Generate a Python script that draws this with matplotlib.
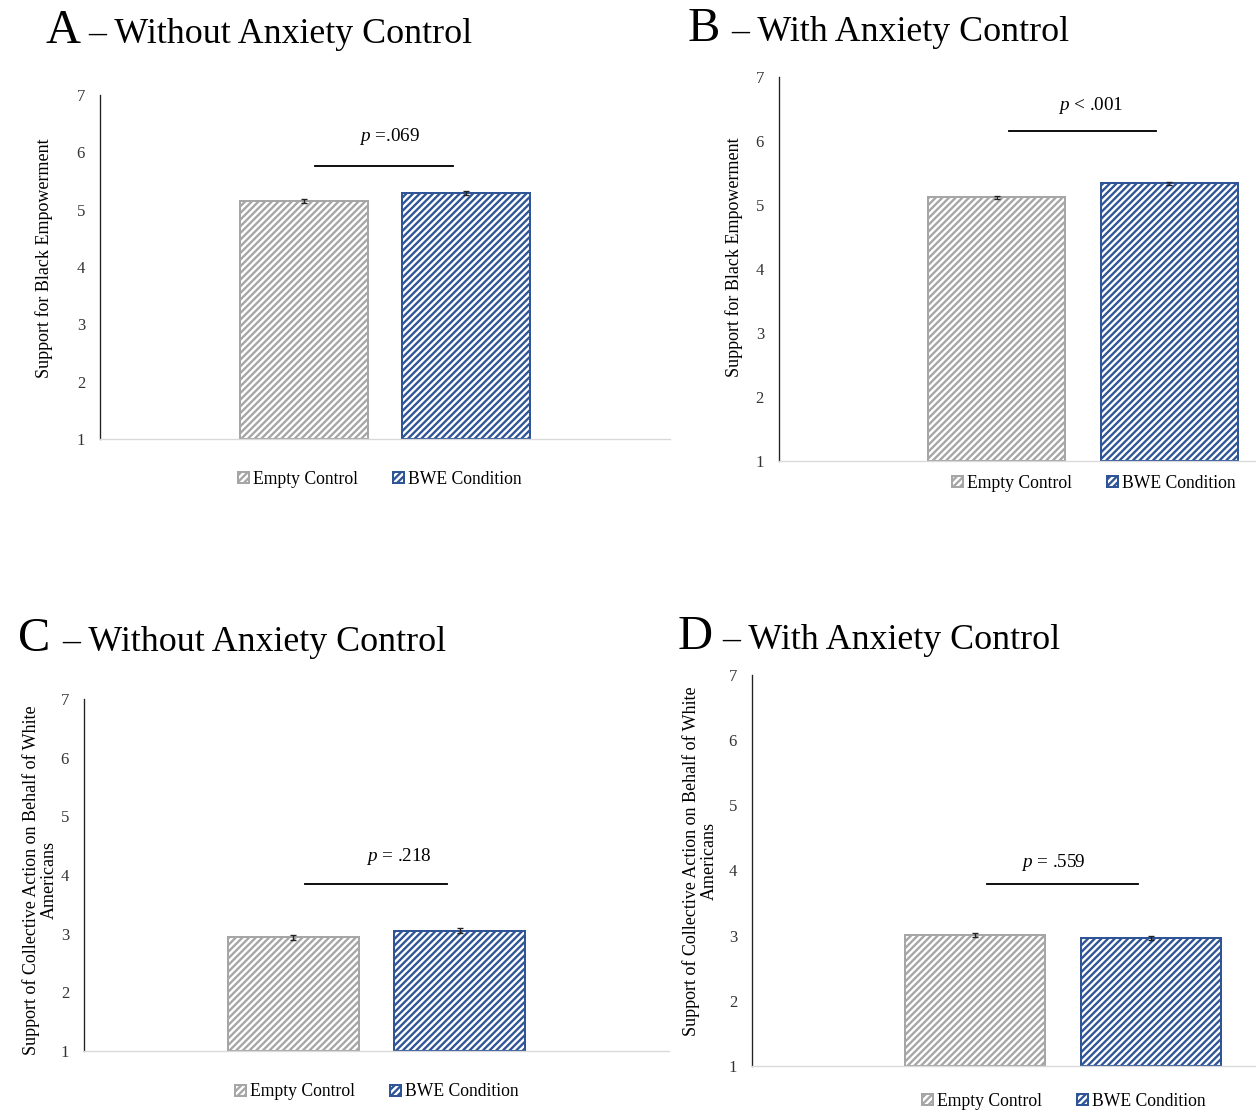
import matplotlib
matplotlib.use("Agg")
import matplotlib.pyplot as plt

plt.rcParams["font.family"] = ["Liberation Serif", "DejaVu Serif"]
plt.rcParams["mathtext.fontset"] = "custom"
plt.rcParams["mathtext.rm"] = "Liberation Serif"
plt.rcParams["mathtext.it"] = "Liberation Serif:italic"
plt.rcParams["hatch.linewidth"] = 1.4

# data
conditions = ["Empty Control", "BWE Condition"]
panel_letters = ["A", "B", "C", "D"]
panel_titles = ["Without Anxiety Control", "With Anxiety Control",
                "Without Anxiety Control", "With Anxiety Control"]
ylabels = ["Support for Black Empowerment", "Support for Black Empowerment",
           "Support of Collective Action on Behalf of White\nAmericans",
           "Support of Collective Action on Behalf of White\nAmericans"]
means_a = [5.15, 5.29]
means_b = [5.12, 5.34]
means_c = [2.94, 3.05]
means_d = [3.01, 2.96]
errs_a = [0.03, 0.03]
errs_b = [0.02, 0.02]
errs_c = [0.04, 0.04]
errs_d = [0.03, 0.03]
p_labels = [r"$p$ =.069", r"$p$ < .001", r"$p$ = .218", r"$p$ = .559"]
sig_heights = [5.76, 6.16, 3.85, 3.79]
p_heights = [6.27, 6.56, 4.32, 4.13]
yticks = [1, 2, 3, 4, 5, 6, 7]

W, H, DPI = 1256, 1112, 120
fig = plt.figure(figsize=(W / DPI, H / DPI), dpi=DPI)

# layout in pixels: left, right, top, bottom of the axes
boxes = [(100, 670, 95, 439), (779, 1387, 77, 461),
         (84, 669, 699, 1051), (752, 1374, 675, 1066)]
title_pos = [(45, 88, 43), (688, 731, 41), (18, 62, 651), (678, 722, 649)]
ylabel_pos = [(44, 258), (734, 257), (40, 880), (700, 861)]
legend_pos = [(380, 479), (1094, 483), (377, 1092), (1064, 1101)]
p_x = [0.507, 0.512, 0.538, 0.484]

colors = ["#a6a6a6", "#2f5597"]
all_means = [means_a, means_b, means_c, means_d]
all_errs = [errs_a, errs_b, errs_c, errs_d]

bw = 0.225
off = 0.142

for i in range(4):
    l, r, t, b = boxes[i]
    ax = fig.add_axes([l / W, 1 - b / H, (r - l) / W, (b - t) / H])
    ax.set_xlim(0, 1)
    ax.set_ylim(1, 7)
    xs = [0.5 - off, 0.5 + off]
    bars = []
    for j in range(2):
        bar = ax.bar(xs[j], all_means[i][j] - 1, bottom=1, width=bw,
                     facecolor="white", edgecolor=colors[j], hatch="//////",
                     linewidth=1.2, label=conditions[j], zorder=2)
        bars.append(bar)
        ax.errorbar(xs[j], all_means[i][j], yerr=all_errs[i][j], color="#222222",
                    elinewidth=0.8, capsize=2, capthick=0.8, zorder=3)
    ax.plot([0.378, 0.62], [sig_heights[i]] * 2, color="black", linewidth=1.1)
    ax.text(p_x[i], p_heights[i], p_labels[i], ha="center", va="center", fontsize=11.5)

    ax.set_yticks(yticks)
    ax.set_xticks([])
    ax.tick_params(axis="y", length=0, pad=9, labelsize=10, labelcolor="#333333")
    for s in ["top", "right"]:
        ax.spines[s].set_visible(False)
    ax.spines["left"].set_color("#222222")
    ax.spines["left"].set_linewidth(0.8)
    ax.spines["bottom"].set_color("#d9d9d9")
    ax.spines["bottom"].set_linewidth(0.8)

    lx, ly = ylabel_pos[i]
    fig.text(lx / W, 1 - ly / H, ylabels[i], rotation=90, ha="center", va="center",
             fontsize=10.8, linespacing=1.05, multialignment="center")

    tx1, tx2, ty = title_pos[i]
    fig.text(tx1 / W, 1 - ty / H, panel_letters[i], fontsize=29, va="baseline")
    fig.text(tx2 / W, 1 - ty / H, "\u2013 " + panel_titles[i], fontsize=21.5, va="baseline")

    gx, gy = legend_pos[i]
    ax.legend(handles=[bars[0], bars[1]], labels=conditions, loc="center",
              bbox_to_anchor=(gx / W, 1 - gy / H), bbox_transform=fig.transFigure,
              ncol=2, frameon=False, fontsize=10.6, handlelength=0.6, handleheight=0.6,
              handletextpad=0.25, columnspacing=2.0, borderpad=0)

fig.savefig("out.png", dpi=DPI)
